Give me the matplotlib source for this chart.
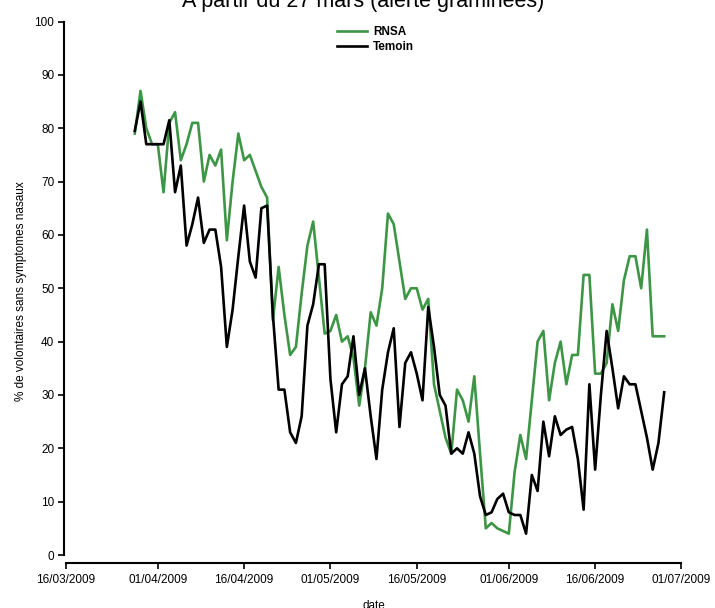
import pandas as pd
import matplotlib.pyplot as plt
import matplotlib.dates as mdates

plt.rcParams['font.family'] = ['Liberation Sans', 'DejaVu Sans']

# Séries journalières à partir du 28/03/2009
start_date = '2009-03-28'
rnsa = [79, 87, 80, 77, 77, 68, 81, 83, 74, 77, 81, 81, 70, 75, 73, 76, 59, 70, 79, 74,
        75, 72, 69, 67, 44, 54, 45, 37.5, 39, 49, 58, 62.5, 52, 41.5, 42, 45, 40, 41, 37, 28,
        35, 45.5, 43, 50, 64, 62, 55, 48, 50, 50, 46, 48, 32, 27, 22, 19, 31, 29, 25, 33.5,
        19, 5, 6, 5, 4.5, 4, 15.5, 22.5, 18, 29, 40, 42, 29, 36, 40, 32, 37.5, 37.5, 52.5, 52.5,
        34, 34, 36, 47, 42, 51.5, 56, 56, 50, 61, 41, 41, 41]
temoin = [79.5, 85, 77, 77, 77, 77, 81.5, 68, 73, 58, 62, 67, 58.5, 61, 61, 54, 39, 46, 56, 65.5,
          55, 52, 65, 65.5, 45, 31, 31, 23, 21, 26, 43, 47, 54.5, 54.5, 33, 23, 32, 33.5, 41, 30,
          35, 26, 18, 31, 38, 42.5, 24, 36, 38, 34, 29, 46.5, 39, 30, 28, 19, 20, 19, 23, 19,
          11, 7.5, 8, 10.5, 11.5, 8, 7.5, 7.5, 4, 15, 12, 25, 18.5, 26, 22.5, 23.5, 24, 18, 8.5, 32,
          16, 30, 42, 35, 27.5, 33.5, 32, 32, 27, 22, 16, 21, 30.5]
tick_dates = ['2009-03-16', '2009-04-01', '2009-04-16', '2009-05-01',
              '2009-05-16', '2009-06-01', '2009-06-16', '2009-07-01']

dates = pd.date_range(start_date, periods=len(rnsa), freq='D')
ticks = pd.to_datetime(tick_dates)
tick_nums = mdates.date2num(ticks)

fig = plt.figure(figsize=(7.15, 6.08), dpi=100)
ax = fig.add_axes([0.0895, 0.074, 0.866, 0.895])

ax.plot(dates, rnsa, color='#3d9645', lw=1.9, label='RNSA')
ax.plot(dates, temoin, color='black', lw=1.9, label='Temoin')

ax.set_xlim(tick_nums[0] - 0.3, tick_nums[-1] + 0.3)
ax.set_ylim(-1.5, 100.5)
ax.set_xticks(tick_nums)
ax.xaxis.set_major_formatter(mdates.DateFormatter('%d/%m/%Y'))
ax.set_yticks(range(0, 101, 10))

for s in ['top', 'right']:
    ax.spines[s].set_visible(False)
ax.spines['left'].set_bounds(0, 100)
ax.spines['bottom'].set_bounds(tick_nums[0], tick_nums[-1])
ax.spines['left'].set_linewidth(1.5)
ax.spines['bottom'].set_linewidth(1.5)
ax.tick_params(width=1.2, length=4, labelsize=8.5, pad=3)
ax.tick_params(axis='x', pad=4)

ax.set_xlabel('date', fontsize=8.5, labelpad=10)
ax.set_ylabel('% de volontaires sans symptomes nasaux', fontsize=8.5, labelpad=5)

# titre coupé en haut comme sur l'original
fig.text(0.508, 0.9885, 'A partir du 27 mars (alerte graminées)', ha='center', va='baseline', fontsize=15.5)

ax.legend(loc='upper left', bbox_to_anchor=(0.457, 0.975), bbox_transform=fig.transFigure,
          frameon=False, handlelength=2.5, handletextpad=0.5, labelspacing=0.3,
          prop={'weight': 'bold', 'size': 8.5})

plt.savefig('out.png')
